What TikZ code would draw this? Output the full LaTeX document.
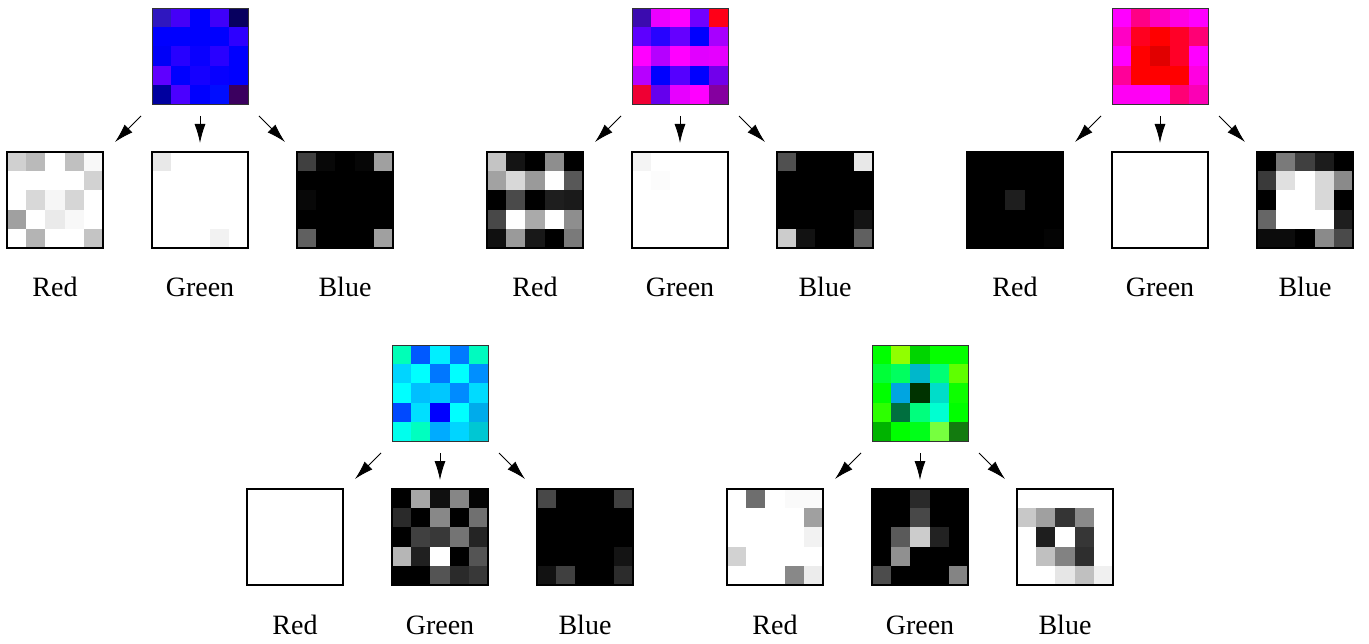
\documentclass[tikz,border=0pt]{standalone}
\usepackage{fontspec}
\setmainfont{Liberation Serif}
\usetikzlibrary{arrows.meta}
\tikzset{
  gridbox/.style={draw=black, line width=1.1pt, minimum size=96pt, inner sep=0pt, fill=none},
  colbox/.style={draw=black!80, line width=0.9pt, minimum size=96pt, inner sep=0pt, fill=none},
  lab/.style={font=\fontsize{28}{30}\selectfont, anchor=base, inner sep=0pt},
  arr/.style={line width=0.9pt, -{Latex[length=19pt,width=11pt]}}
}
% #1 prefix, #2 x offset, #3 y offset, #4 R display, #5 G display, #6 B display
\newcommand\pixgroup[6]{%
  \def\Rl{{#4}}\def\Gl{{#5}}\def\Bl{{#6}}%
  \foreach \i in {0,...,24}{%
    \pgfmathtruncatemacro\row{floor(\i/5)}%
    \pgfmathtruncatemacro\col{mod(\i,5)}%
    \pgfmathtruncatemacro\rr{\Rl[\i]}%
    \pgfmathtruncatemacro\gg{\Gl[\i]}%
    \pgfmathtruncatemacro\bb{\Bl[\i]}%
    \pgfmathtruncatemacro\cr{255-\rr}%
    \pgfmathtruncatemacro\cg{255-\gg}%
    \pgfmathtruncatemacro\cb{255-\bb}%
    \definecolor{cellC}{RGB}{\cr,\cg,\cb}%
    \definecolor{cellR}{RGB}{\rr,\rr,\rr}%
    \definecolor{cellG}{RGB}{\gg,\gg,\gg}%
    \definecolor{cellB}{RGB}{\bb,\bb,\bb}%
    \fill[cellC] ({#2+152+\col*19.2},{#3+8+\row*19.2}) rectangle ++(19.2,19.2);
    \fill[cellR] ({#2+7+\col*19.2},{#3+152+\row*19.2}) rectangle ++(19.2,19.2);
    \fill[cellG] ({#2+152+\col*19.2},{#3+152+\row*19.2}) rectangle ++(19.2,19.2);
    \fill[cellB] ({#2+297+\col*19.2},{#3+152+\row*19.2}) rectangle ++(19.2,19.2);
  }
  \node[colbox] (#1c) at (#2+200,#3+56) {};
  \node[gridbox] (#1r) at (#2+55,#3+200) {};
  \node[gridbox] (#1g) at (#2+200,#3+200) {};
  \node[gridbox] (#1b) at (#2+345,#3+200) {};
  \node[lab] (#1lr) at (#2+55,#3+297) {Red};
  \node[lab] (#1lg) at (#2+200,#3+297) {Green};
  \node[lab] (#1lb) at (#2+345,#3+297) {Blue};
  \coordinate (#1t1) at (#2+141,#3+116);
  \coordinate (#1h1) at (#2+115,#3+142);
  \coordinate (#1t2) at (#2+200,#3+116);
  \coordinate (#1h2) at (#2+200,#3+143);
  \coordinate (#1t3) at (#2+259,#3+116);
  \coordinate (#1h3) at (#2+285,#3+142);
  \draw[arr] (#1t1) -- (#1h1);
  \draw[arr] (#1t2) -- (#1h2);
  \draw[arr] (#1t3) -- (#1h3);
}
\begin{document}
\begin{tikzpicture}[x=1pt,y=-1pt]
\useasboundingbox[fill=white] (0,0) rectangle (1369,644);
\pixgroup{a}{0}{0}
 {208,186,255,192,248, 255,255,255,255,210, 255,216,246,214,255, 160,255,234,248,255, 255,180,255,255,196}
 {232,255,255,255,255, 255,255,255,255,255, 255,255,255,255,255, 255,255,255,255,255, 255,255,255,242,255}
 {64,8,0,6,160, 0,0,0,0,0, 8,0,0,0,0, 0,0,0,0,0, 96,0,0,0,160}
\pixgroup{b}{480}{0}
 {196,20,0,142,0, 162,216,154,255,88, 0,74,0,30,26, 72,255,170,255,142, 16,154,24,0,122}
 {244,255,255,255,255, 255,252,255,255,255, 255,255,255,255,255, 255,255,255,255,255, 255,255,255,255,255}
 {80,0,0,0,232, 0,0,0,0,0, 0,0,0,0,0, 0,0,0,0,20, 204,18,0,0,96}
\pixgroup{c}{960}{0}
 {0,0,0,0,0, 0,0,0,0,0, 0,0,30,0,0, 0,0,0,0,0, 0,0,0,0,4}
 {255,255,255,255,255, 255,255,255,255,255, 255,255,255,255,255, 255,255,255,255,255, 255,255,255,255,255}
 {0,122,64,28,0, 58,224,255,216,138, 0,255,255,216,0, 102,255,255,255,30, 12,12,0,138,74}
\pixgroup{d}{240}{337}
 {255,255,255,255,255, 255,255,255,255,255, 255,255,255,255,255, 255,255,255,255,255, 255,255,255,255,255}
 {0,166,16,134,4, 42,0,136,0,112, 0,64,56,116,36, 182,32,255,0,84, 0,0,84,42,56}
 {72,0,0,0,64, 0,0,0,0,0, 0,0,0,0,0, 0,0,0,0,20, 18,64,0,0,44}
\pixgroup{e}{720}{337}
 {255,110,255,250,250, 255,255,255,255,160, 255,255,255,255,242, 210,255,255,255,255, 255,255,255,136,236}
 {0,0,42,0,0, 0,0,72,0,0, 0,90,204,34,0, 0,144,0,0,0, 76,0,0,0,132}
 {255,255,255,255,255, 200,160,52,138,255, 255,30,255,54,255, 255,192,130,46,255, 255,255,230,192,240}
\end{tikzpicture}
\end{document}
